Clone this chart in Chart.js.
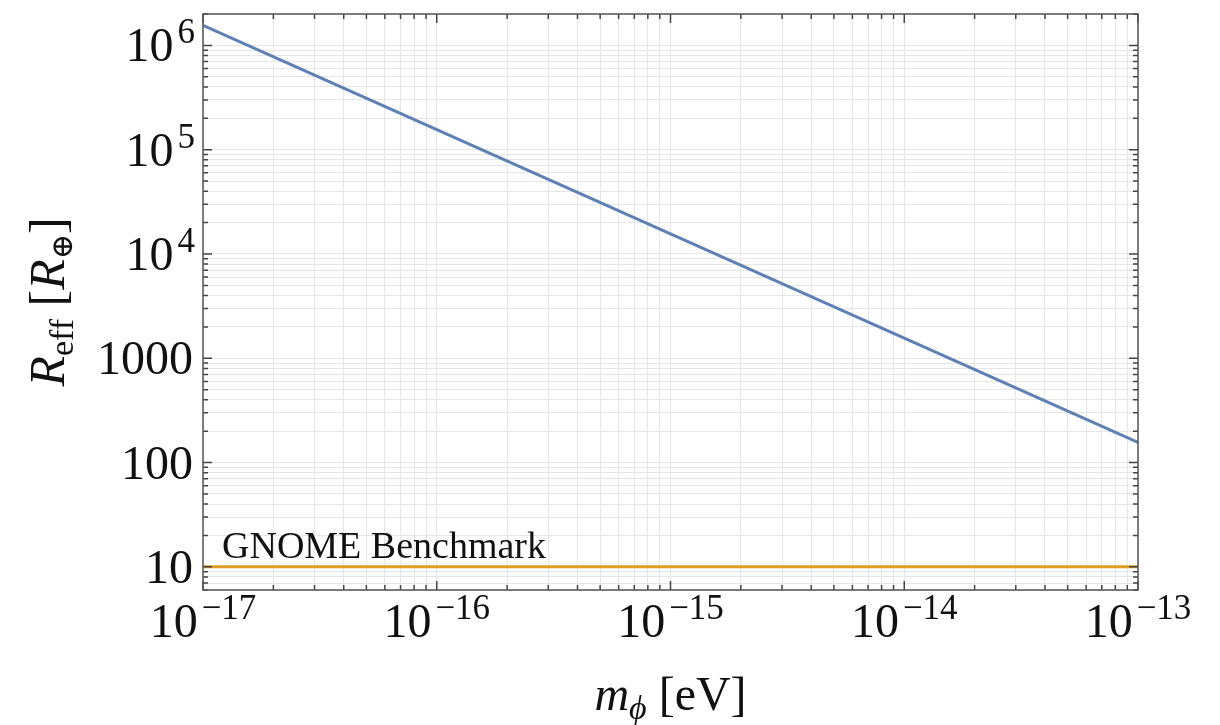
<!DOCTYPE html>
<html>
<head>
<meta charset="utf-8">
<script src="https://cdn.jsdelivr.net/npm/chart.js@4/dist/chart.umd.min.js"></script>
<style>
  html, body { margin: 0; padding: 0; background: #fff; }
  #wrap { width: 1220px; height: 725px; }
</style>
</head>
<body>
<div id="wrap"><canvas id="myChart" width="1220" height="725"></canvas></div>
<script>
// scalar mass (eV) and the effective radius in Earth radii
const massEv = [1e-17, 1e-16, 1e-15, 1e-14, 1e-13];
const rEff = [1.56e6, 1.56e5, 1.56e4, 1560, 156];
const gnomeLevel = 10;
const xDecades = [-17, -16, -15, -14, -13];
const yDecades = [1, 2, 3, 4, 5, 6];
const yPlainLabels = { 1: "10", 2: "100", 3: "1000" };

const SERIF = "'Liberation Serif', 'DejaVu Serif', serif";
const BLUE = "#5e81b5";
const ORANGE = "#e19c24";

// every 1..9 x 10^k between min and max, so grid and ticks get the minor lines too
function logTicks(min, max) {
    var out = [];
    var lo = Math.floor(Math.log10(min)), hi = Math.ceil(Math.log10(max));
    for (var k = lo; k <= hi; k++) {
        for (var m = 1; m <= 9; m++) {
            var v = m * Math.pow(10, k);
            if (v >= min * 0.9999 && v <= max * 1.0001) out.push({ value: v, major: m === 1 });
        }
    }
    return out;
}

function isMajor(v) {
    var l = Math.log10(v);
    return Math.abs(l - Math.round(l)) < 1e-6;
}

// draws "10" with a raised exponent; align = "center" or "right"
function drawPower(ctx, exp, x, y, align) {
    var base = "10", sup = String(exp).replace("-", "\u2212");
    ctx.font = "48px " + SERIF;
    var wb = ctx.measureText(base).width;
    ctx.font = "35px " + SERIF;
    var ws = ctx.measureText(sup).width;
    var total = wb + 4 + ws;
    var x0 = align === "right" ? x - total : x - total / 2;
    ctx.textAlign = "left";
    ctx.textBaseline = "alphabetic";
    ctx.font = "48px " + SERIF;
    ctx.fillText(base, x0, y);
    ctx.font = "35px " + SERIF;
    ctx.fillText(sup, x0 + wb + 4, y - 18);
}

const framePlugin = {
    id: "frame",
    afterDraw: function (chart) {
        var ctx = chart.ctx, a = chart.chartArea;
        var xs = chart.scales.x, ys = chart.scales.y;
        ctx.save();

        // inward tick marks on all four sides
        ctx.strokeStyle = "#444";
        ctx.lineWidth = 1.5;
        ctx.beginPath();
        xs.ticks.forEach(function (t) {
            var px = xs.getPixelForValue(t.value), len = isMajor(t.value) ? 9 : 5;
            ctx.moveTo(px, a.bottom); ctx.lineTo(px, a.bottom - len);
            ctx.moveTo(px, a.top); ctx.lineTo(px, a.top + len);
        });
        ys.ticks.forEach(function (t) {
            var py = ys.getPixelForValue(t.value), len = isMajor(t.value) ? 9 : 5;
            ctx.moveTo(a.left, py); ctx.lineTo(a.left + len, py);
            ctx.moveTo(a.right, py); ctx.lineTo(a.right - len, py);
        });
        ctx.stroke();

        ctx.strokeStyle = "#555";
        ctx.lineWidth = 1.5;
        ctx.strokeRect(a.left, a.top, a.right - a.left, a.bottom - a.top);

        ctx.fillStyle = "#111";

        // x tick labels
        xDecades.forEach(function (e) {
            drawPower(ctx, e, xs.getPixelForValue(Math.pow(10, e)), a.bottom + 47, "center");
        });

        // y tick labels
        yDecades.forEach(function (e) {
            var py = ys.getPixelForValue(Math.pow(10, e));
            if (yPlainLabels[e]) {
                ctx.font = "48px " + SERIF;
                ctx.textAlign = "right";
                ctx.textBaseline = "alphabetic";
                ctx.fillText(yPlainLabels[e], 193, py + 16);
            } else {
                drawPower(ctx, e, 195, py + 16, "right");
            }
        });

        // benchmark caption
        ctx.font = "38px " + SERIF;
        ctx.textAlign = "left";
        ctx.fillText("GNOME Benchmark", 222, ys.getPixelForValue(gnomeLevel) - 9);

        // x axis title: m_phi [eV]
        var cx = (a.left + a.right) / 2, by = 710;
        var parts = [
            { t: "m", f: "italic 48px " + SERIF, dy: 0 },
            { t: "\u03d5", f: "italic 34px " + SERIF, dy: 9 },
            { t: " [eV]", f: "48px " + SERIF, dy: 0 }
        ];
        drawRun(ctx, parts, cx, by);

        // y axis title: R_eff [R_earth], rotated
        ctx.save();
        ctx.translate(64, (a.top + a.bottom) / 2);
        ctx.rotate(-Math.PI / 2);
        var yparts = [
            { t: "R", f: "italic 50px " + SERIF, dy: 0 },
            { t: "eff", f: "34px " + SERIF, dy: 9 },
            { t: " [", f: "50px " + SERIF, dy: 0 },
            { t: "R", f: "italic 50px " + SERIF, dy: 0 },
            { t: "\u2295", f: "30px " + SERIF, dy: 8 },
            { t: "]", f: "50px " + SERIF, dy: 0 }
        ];
        drawRun(ctx, yparts, 0, 0);
        ctx.restore();

        ctx.restore();
    }
};

// lays a run of differently styled text pieces, centred on cx
function drawRun(ctx, parts, cx, by) {
    var total = 0;
    parts.forEach(function (p) { ctx.font = p.f; p.w = ctx.measureText(p.t).width; total += p.w; });
    var x = cx - total / 2;
    ctx.textAlign = "left";
    ctx.textBaseline = "alphabetic";
    parts.forEach(function (p) {
        ctx.font = p.f;
        ctx.fillText(p.t, x, by + p.dy);
        x += p.w;
    });
}

var ctx = document.getElementById("myChart").getContext("2d");

var chart = new Chart(ctx, {
    type: "line",
    data: {
        datasets: [
            {
                label: "R_eff",
                data: massEv.map(function (m, i) { return { x: m, y: rEff[i] }; }),
                borderColor: BLUE,
                borderWidth: 3,
                pointRadius: 0,
                tension: 0,
            },
            {
                label: "GNOME Benchmark",
                data: [
                    { x: massEv[0], y: gnomeLevel },
                    { x: massEv[massEv.length - 1], y: gnomeLevel },
                ],
                borderColor: ORANGE,
                borderWidth: 3,
                pointRadius: 0,
            },
        ],
    },
    options: {
        responsive: false,
        animation: false,
        layout: {
            padding: { left: 203, right: 82, top: 14, bottom: 135 },
        },
        scales: {
            x: {
                type: "logarithmic",
                min: 1e-17,
                max: 1e-13,
                afterBuildTicks: function (scale) { scale.ticks = logTicks(1e-17, 1e-13); },
                ticks: { display: false },
                grid: { color: "#e6e6e6", lineWidth: 1, drawTicks: false },
                border: { display: false },
            },
            y: {
                type: "logarithmic",
                min: 6,
                max: 2e6,
                afterBuildTicks: function (scale) { scale.ticks = logTicks(6, 2e6); },
                ticks: { display: false },
                grid: { color: "#e6e6e6", lineWidth: 1, drawTicks: false },
                border: { display: false },
            },
        },
        plugins: {
            legend: { display: false },
            tooltip: { enabled: false },
        },
    },
    plugins: [framePlugin],
});
</script>
</body>
</html>
